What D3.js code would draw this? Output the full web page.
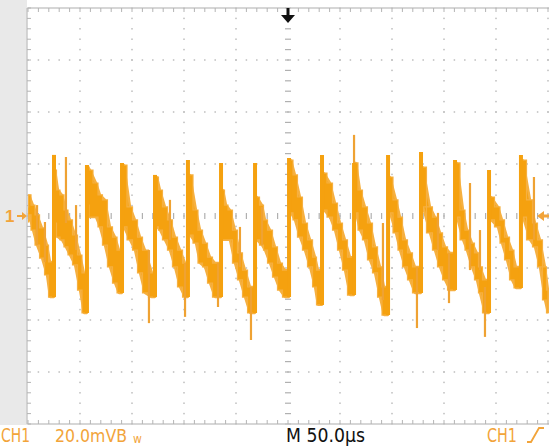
<!DOCTYPE html>
<html><head><meta charset="utf-8">
<script src="https://cdn.jsdelivr.net/npm/d3@7"></script>
<style>html,body{margin:0;padding:0;background:#fff;overflow:hidden}svg{display:block}</style>
</head><body>
<script>
// ---- data (time in µs, voltage in mV) ----
const timeMajor = d3.range(0, 501, 50);     // 50 µs / div
const timeMinor = d3.range(0, 501, 10);
const voltMajor = d3.range(-80, 81, 20);    // 20 mV / div
const voltMinor = d3.range(-80, 81, 4);

const riseTime = [25.0, 56.7, 90.4, 122.1, 153.8, 185.6, 218.3, 251.0, 282.7, 313.5, 346.2, 377.9, 410.6, 443.3, 474.0];
const risePeak = [23.5, 19.6, 20.4, 15.8, 21.5, 20.4, 20.4, 22.3, 23.5, 20.4, 23.5, 24.6, 21.5, 17.7, 23.5];

const sampleTime = [
  0, 1.0, 4.8, 8.7, 13.5, 18.3, 21.2,
  26.0, 28.8, 32.7, 36.5, 40.4, 45.2, 50.0, 53.8,
  57.7, 59.6, 65.4, 69.2, 74.0, 78.8, 83.7, 87.5,
  92.3, 98.1, 102.9, 107.7, 112.5, 119.2,
  124.0, 126.9, 131.7, 136.5, 141.3, 146.2, 151.0,
  155.8, 161.5, 165.4, 170.2, 175.0, 179.8,
  187.5, 190.4, 194.2, 199.0, 203.8, 208.7, 213.5,
  220.2, 225.0, 227.9, 232.7, 237.5, 242.3, 247.1,
  252.9, 256.7, 261.5, 266.3, 271.2, 276.0, 278.8,
  284.6, 290.4, 295.2, 300.0, 304.8, 309.6,
  315.4, 319.2, 324.0, 328.8, 333.7, 338.5, 342.3,
  348.1, 353.8, 357.7, 362.5, 367.3, 372.1,
  379.8, 386.5, 391.3, 396.2, 401.0, 405.8,
  412.5, 418.3, 422.1, 426.9, 431.7, 434.6, 439.4,
  445.2, 451.9, 455.8, 460.6, 465.4, 469.2,
  476.0, 482.7, 487.5, 492.3, 497.1, 500.0];
const sampleHigh = [
  3.5, 8.1, 4.2, 0.4, -4.6, -11.2, -17.7,
  17.7, 10.0, 8.1, 2.3, -1.5, -7.3, -15.0, -21.9,
  18.8, 17.7, 12.7, 8.1, 6.2, -4.2, -8.1, -13.1,
  19.6, 3.5, -1.5, -8.1, -13.1, -21.9,
  15.0, 10.0, 3.5, -1.5, -8.1, -13.1, -18.1,
  15.8, 2.3, -5.4, -10.4, -15.8, -18.1,
  10.0, 4.2, 2.3, -5.4, -14.2, -20.8, -27.3,
  7.3, 4.2, -1.5, -5.4, -11.9, -18.1, -20.8,
  21.5, 15.8, 7.3, -2.7, -9.2, -15.8, -20.8,
  16.5, 12.7, 5.0, -2.7, -9.2, -15.8,
  20.4, 10.0, 3.5, -2.7, -11.9, -19.6, -27.3,
  15.0, 6.2, -0.4, -9.2, -14.2, -19.6,
  18.8, 3.5, -0.4, -6.5, -11.9, -14.2,
  20.4, 2.3, -5.4, -10.4, -14.2, -19.6, -24.6,
  7.3, 3.5, -1.5, -8.1, -13.1, -19.6,
  21.5, 6.2, -2.7, -9.2, -19.6, -28.5];
const sampleLow = [
  -2.3, 0.4, -5.4, -11.2, -16.2, -22.7, -31.2,
  -2.7, -8.1, -9.2, -11.9, -15.0, -18.8, -28.5, -37.3,
  4.2, -0.4, -0.4, -4.2, -11.2, -19.6, -25.8, -29.6,
  -4.2, -9.2, -13.1, -21.9, -29.6, -31.2,
  -4.2, -5.4, -9.2, -13.1, -19.6, -27.3, -31.2,
  -7.3, -10.4, -18.1, -19.6, -25.8, -31.2,
  -9.2, -9.2, -9.2, -18.1, -24.6, -31.2, -37.3,
  -9.2, -11.2, -13.1, -18.1, -23.5, -28.5, -31.2,
  1.2, -1.5, -8.1, -13.1, -19.6, -27.3, -34.2,
  2.3, -0.4, -5.4, -13.1, -20.8, -30.4,
  1.2, -5.4, -9.2, -16.9, -21.9, -31.2, -38.1,
  1.2, -6.5, -13.1, -19.6, -24.6, -29.6,
  3.5, -6.5, -13.1, -19.6, -24.6, -28.5,
  -0.4, -9.2, -13.1, -19.6, -24.6, -29.6, -37.3,
  -1.5, -4.2, -10.4, -16.9, -24.6, -27.7,
  -0.4, -9.2, -11.9, -19.6, -32.3, -37.3];

const spikeTime = [8.7, 16.3, 36.5, 46.2, 116.3, 136.5, 151.0, 182.7, 203.8, 214.4, 225.0, 313.5, 341.3, 374.0, 394.2, 404.8, 425.0, 434.6, 439.4, 486.5];
const spikeHigh = [4.2, -2.3, 22.7, 4.2, -13.1, 6.2, -18.1, -18.1, -4.2, -27.3, 3.5, 31.2, -2.7, -19.6, 1.2, -14.2, 12.7, -5.4, -27.3, 15.0];
const spikeLow  = [-11.2, -17.7, -2.7, -13.1, -41.2, -9.2, -38.8, -35.0, -19.6, -47.7, -11.2, 20.4, -32.3, -43.1, -13.1, -33.5, -20.8, -20.8, -46.5, -9.2];

const labelChannel = "CH1";
const labelScale = "20.0mVB";
const labelScaleSub = "w";
const labelMid = "M 50.0µs";
const labelRight = "CH1";
const channelMarker = "1";

// ---- layout ----
const W = 549, H = 447;
const ORANGE = "#f5a10f", EDGE = "#f6b040", TXT_ORANGE = "#f2a43a", GRID = "#bdbdbd";
const x = d3.scaleLinear().domain([0, 500]).range([28, 548]);
const y = d3.scaleLinear().domain([-80, 80]).range([424, 8]);

const svg = d3.select("body").append("svg").attr("width", W).attr("height", H);
svg.append("rect").attr("width", W).attr("height", H).attr("fill", "#fff");
svg.append("rect").attr("x", 0).attr("y", 0).attr("width", x(0) - 1).attr("height", y(-80) + 1).attr("fill", "#e9e9e9");

const g = svg.append("g");
timeMajor.forEach(t => {
  if (t === 0 || t === 250) return;
  voltMinor.forEach(v => g.append("rect").attr("x", x(t) - 0.75).attr("y", y(v) - 0.75).attr("width", 1.5).attr("height", 1.5).attr("fill", GRID));
});
voltMajor.forEach(v => {
  if (v === 0 || Math.abs(v) === 80) return;
  timeMinor.forEach(t => g.append("rect").attr("x", x(t) - 0.75).attr("y", y(v) - 0.75).attr("width", 1.5).attr("height", 1.5).attr("fill", GRID));
});
voltMinor.forEach(v => g.append("line").attr("x1", x(250) - 3).attr("x2", x(250) + 3).attr("y1", y(v)).attr("y2", y(v)).attr("stroke", "#b0b0b0").attr("stroke-width", 1.2));
timeMinor.forEach(t => g.append("line").attr("x1", x(t)).attr("x2", x(t)).attr("y1", y(0) - 3).attr("y2", y(0) + 3).attr("stroke", "#b0b0b0").attr("stroke-width", 1.2));
g.append("line").attr("x1", x(0)).attr("x2", W).attr("y1", y(80)).attr("y2", y(80)).attr("stroke", "#c8c8c8").attr("stroke-width", 1.5);
g.append("line").attr("x1", x(0)).attr("x2", W).attr("y1", y(-80)).attr("y2", y(-80)).attr("stroke", "#c8c8c8").attr("stroke-width", 1.5);
g.append("line").attr("x1", x(0) - 1).attr("x2", x(0) - 1).attr("y1", y(80)).attr("y2", y(-80)).attr("stroke", "#c8c8c8").attr("stroke-width", 1.5);
timeMinor.forEach(t => {
  g.append("line").attr("x1", x(t)).attr("x2", x(t)).attr("y1", y(80)).attr("y2", y(80) + 4).attr("stroke", "#b4b4b4");
  g.append("line").attr("x1", x(t)).attr("x2", x(t)).attr("y1", y(-80)).attr("y2", y(-80) - 4).attr("stroke", "#b4b4b4");
});
voltMinor.forEach(v => g.append("line").attr("x1", x(0) - 1).attr("x2", x(0) + 3).attr("y1", y(v)).attr("y2", y(v)).attr("stroke", "#b4b4b4"));

// ---- trace ----
svg.append("clipPath").attr("id", "plot").append("rect").attr("x", x(0)).attr("y", y(80)).attr("width", W - x(0)).attr("height", y(-80) - y(80));
const tr = svg.append("g").attr("clip-path", "url(#plot)");
const samples = sampleTime.map((t, i) => ({ t, hi: sampleHigh[i], lo: sampleLow[i] }));
const bounds = [0, ...riseTime, 500];
const areaLin = d3.area().x(d => x(d.t)).y0(d => y(d.lo)).y1(d => y(d.hi)).curve(d3.curveLinear);
const areaStep = d3.area().x(d => x(d.t)).y0(d => y(d.lo)).y1(d => y(d.hi)).curve(d3.curveStep);
for (let k = 0; k < bounds.length - 1; k++) {
  const seg = samples.filter(d => d.t >= bounds[k] && d.t < bounds[k + 1] || (k === bounds.length - 2 && d.t === 500));
  if (!seg.length) continue;
  const pts = [{ t: bounds[k], hi: seg[0].hi, lo: seg[0].lo }, ...seg, { t: bounds[k + 1], hi: seg[seg.length - 1].hi, lo: seg[seg.length - 1].lo }];
  tr.append("path").attr("d", areaLin(pts)).attr("fill", ORANGE).attr("stroke", EDGE).attr("stroke-width", 2.4).attr("stroke-linejoin", "bevel");
  tr.append("path").attr("d", areaStep(pts)).attr("fill", ORANGE).attr("stroke", EDGE).attr("stroke-width", 1.2);
}
riseTime.forEach((t, i) => {
  const prev = samples.filter(d => d.t < t).pop();
  tr.append("line").attr("x1", x(t)).attr("x2", x(t)).attr("y1", y(prev.lo)).attr("y2", y(risePeak[i]))
    .attr("stroke", ORANGE).attr("stroke-width", 4);
});
spikeTime.forEach((t, i) => {
  tr.append("line").attr("x1", x(t)).attr("x2", x(t)).attr("y1", y(spikeLow[i])).attr("y2", y(spikeHigh[i]))
    .attr("stroke", "#efa233").attr("stroke-width", 2.2);
});

// ---- markers ----
const cx = x(250), ty = y(80);
svg.append("path").attr("d", `M${cx - 1.5},${ty} h3 v7 h5.5 L${cx},${ty + 15} L${cx - 7},${ty + 7} h5.5 Z`).attr("fill", "#111");
svg.append("text").attr("x", 5).attr("y", y(0) + 6).attr("font-family", "Liberation Sans, Arial, sans-serif").attr("font-size", 17).attr("font-weight", "bold").attr("fill", TXT_ORANGE).text(channelMarker);
svg.append("path").attr("d", `M${x(0) - 11},${y(0) - 1} h5 v-3 l5,4 l-5,4 v-3 h-5 Z`).attr("fill", TXT_ORANGE);
svg.append("path").attr("d", `M${x(500) - 11},${y(0)} l7,-5 v3.5 h6 v3 h-6 v3.5 Z`).attr("fill", TXT_ORANGE);

// ---- bottom labels ----
const font = "'Liberation Sans Narrow', 'DejaVu Sans Condensed', Arial, sans-serif";
const base = 442;
const lab = (txt, xx, len, col, size = 19) => svg.append("text").attr("x", xx).attr("y", base).attr("font-family", font).attr("font-size", size)
  .attr("fill", col).attr("textLength", len).attr("lengthAdjust", "spacingAndGlyphs").text(txt);
lab(labelChannel, 1, 29, TXT_ORANGE);
lab(labelScale, 55, 72, TXT_ORANGE, 18);
svg.append("text").attr("x", 133).attr("y", base + 1).attr("font-family", font).attr("font-size", 12).attr("fill", TXT_ORANGE).text(labelScaleSub);
lab(labelMid, 286, 79, "#111");
lab(labelRight, 487, 30, TXT_ORANGE);
svg.append("path").attr("d", `M527,${base} h4 L539,${base - 14} h5`).attr("fill", "none").attr("stroke", TXT_ORANGE).attr("stroke-width", 1.8);
</script>
</body></html>
